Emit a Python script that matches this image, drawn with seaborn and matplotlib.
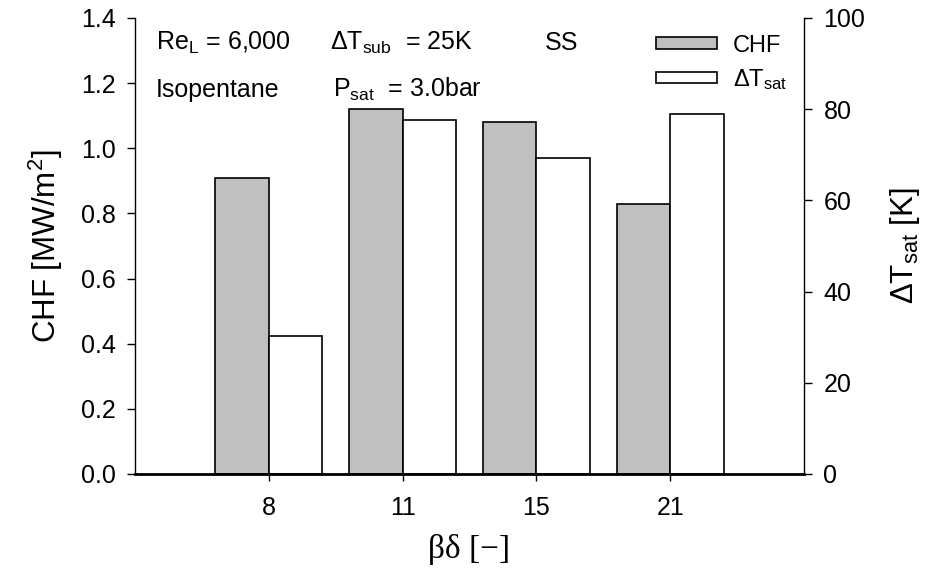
import pandas as pd
import matplotlib
matplotlib.use("Agg")
import matplotlib.pyplot as plt
import seaborn as sns

# data
beta_delta = ['8', '11', '15', '21']
chf = [0.91, 1.12, 1.08, 0.83]          # MW/m2
dt_sat = [30.2, 77.6, 69.4, 79.0]       # K
chf_ticks = [0.0, 0.2, 0.4, 0.6, 0.8, 1.0, 1.2, 1.4]
dt_ticks = [0, 20, 40, 60, 80, 100]

CHF_MAX = 1.4
DT_MAX = 100.0


def chf_to_dt(y):
    return y / CHF_MAX * DT_MAX


def dt_to_chf(y):
    return y / DT_MAX * CHF_MAX


sns.set_theme(style='white')
plt.rcParams['font.family'] = ['Liberation Sans', 'DejaVu Sans']
plt.rcParams['mathtext.fontset'] = 'custom'
plt.rcParams['mathtext.rm'] = 'Liberation Sans'
plt.rcParams['mathtext.it'] = 'Liberation Sans:italic'
plt.rcParams['mathtext.default'] = 'regular'
plt.rcParams['text.color'] = 'black'
plt.rcParams['axes.labelcolor'] = 'black'
plt.rcParams['xtick.color'] = 'black'
plt.rcParams['ytick.color'] = 'black'

# both series go on the left (CHF) scale, dT is converted and read off the
# secondary axis on the right
df = pd.DataFrame({
    'bd': beta_delta * 2,
    'val': chf + [dt_to_chf(v) for v in dt_sat],
    'series': ['CHF'] * 4 + [r'$\Delta$T$_{sat}$'] * 4,
})

fig = plt.figure(figsize=(9.27, 5.8), dpi=100)
ax = fig.add_axes([0.1456, 0.1828, 0.7217, 0.7862])

sns.barplot(data=df, x='bd', y='val', hue='series', order=beta_delta,
            palette=['#c0c0c0', 'white'], edgecolor='black', linewidth=1.2,
            saturation=1, ax=ax)

ax.set_xlim(-1, 4)
ax.set_ylim(0, CHF_MAX)
ax.set_yticks(chf_ticks)
ax.set_yticklabels(['%.1f' % t for t in chf_ticks])

ax2 = ax.secondary_yaxis('right', functions=(chf_to_dt, dt_to_chf))
ax2.set_yticks(dt_ticks)

ax.spines['top'].set_visible(False)
ax.spines['right'].set_visible(False)
ax.spines['left'].set_color('black')
ax.spines['left'].set_linewidth(1)
ax.spines['bottom'].set_color('black')
ax.spines['bottom'].set_linewidth(2)
ax2.spines['right'].set_color('black')
ax2.spines['right'].set_linewidth(1)

ax.tick_params(axis='y', direction='out', length=6, width=1, colors='black',
               labelsize=18, pad=8, left=True)
ax.tick_params(axis='x', direction='out', length=5, width=1, colors='black',
               labelsize=18, pad=11, bottom=True)
ax2.tick_params(axis='y', direction='out', length=6, width=1, colors='black',
                labelsize=18, pad=8, right=True)

ax.set_xlabel('βδ [−]', family=['Liberation Serif', 'DejaVu Serif'],
              fontsize=24, labelpad=10, color='black')
ax.set_ylabel(r'CHF [MW/m$^2$]', fontsize=22.5, labelpad=11, color='black')
ax2.set_ylabel(r'$\Delta$T$_{sat}$ [K]', fontsize=22.5, labelpad=16,
               color='black')

ax.text(0.031, 0.930, r'Re$_L$ = 6,000', transform=ax.transAxes,
        fontsize=18, va='baseline')
ax.text(0.291, 0.930, r'$\Delta$T$_{sub}$  = 25K', transform=ax.transAxes,
        fontsize=18, va='baseline')
ax.text(0.613, 0.930, 'SS', transform=ax.transAxes, fontsize=18,
        va='baseline')
ax.text(0.031, 0.827, 'Isopentane', transform=ax.transAxes,
        fontsize=18, va='baseline')
ax.text(0.296, 0.827, r'P$_{sat}$  = 3.0bar', transform=ax.transAxes,
        fontsize=18, va='baseline')

leg = ax.legend(loc='upper right', bbox_to_anchor=(1.0, 1.0), frameon=False,
                fontsize=17, handlelength=2.55, handleheight=0.35,
                handletextpad=0.7, labelspacing=0.45, borderaxespad=0.3,
                title=None)
for t in leg.get_texts():
    t.set_color('black')

fig.savefig('out.png', dpi=100)
